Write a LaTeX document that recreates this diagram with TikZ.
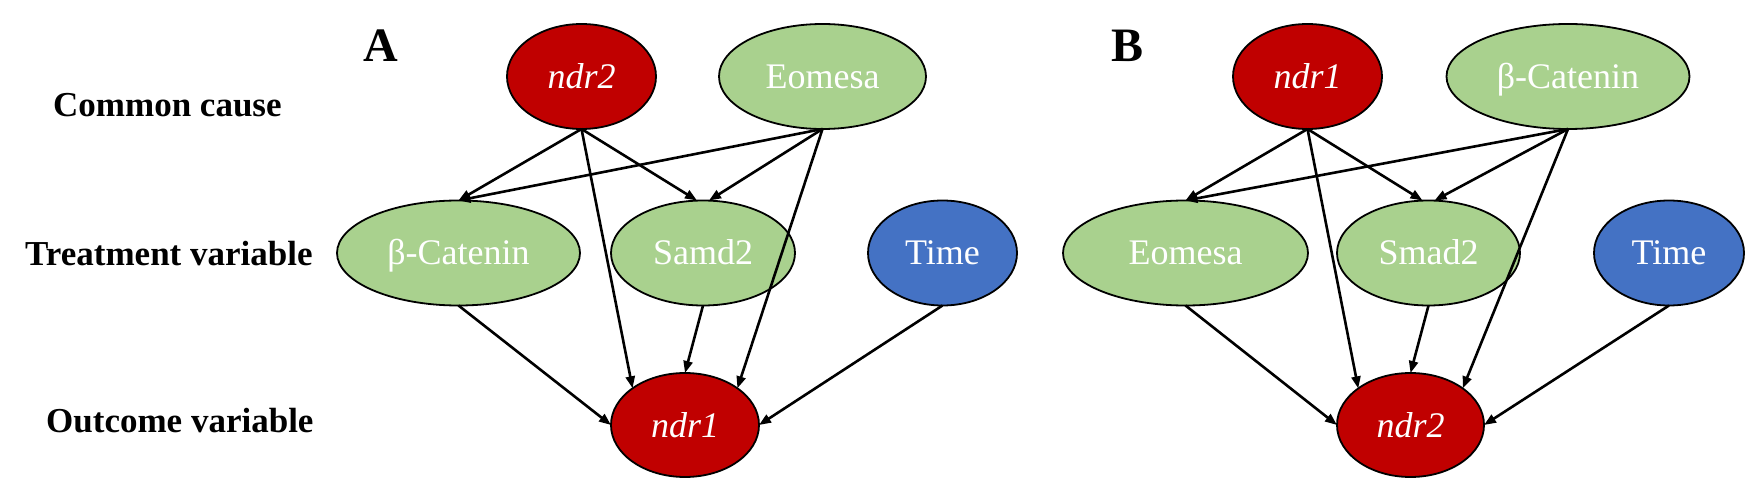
\documentclass[tikz,border=0pt]{standalone}
\usepackage{fontspec}
\setmainfont{Liberation Serif}
\usetikzlibrary{shapes.geometric,arrows.meta}
\definecolor{nred}{HTML}{C00000}
\definecolor{ngreen}{HTML}{A9D18E}
\definecolor{nblue}{HTML}{4472C4}
\tikzset{
  ell/.style={ellipse, draw=black, line width=1.8pt, inner sep=0pt, outer sep=0pt,
    text=white, text height=24pt, text depth=0pt,
    font=\fontsize{36}{40}\selectfont},
  rednode/.style={ell, fill=nred, font=\fontsize{36}{40}\selectfont\itshape},
  greennode/.style={ell, fill=ngreen},
  bluenode/.style={ell, fill=nblue},
  rowlabel/.style={anchor=base west, inner sep=0pt, font=\fontsize{35}{40}\selectfont\bfseries},
  panellabel/.style={anchor=base west, inner sep=0pt, font=\fontsize{48}{50}\selectfont\bfseries},
  edge/.style={-{Triangle[length=12pt,width=9pt]}, line width=2.6pt}
}
\begin{document}
\begin{tikzpicture}[x=1pt,y=-1pt]
\useasboundingbox (0,0) rectangle (1746,478);

% row labels
\node[rowlabel] (lc) at (53,117) {Common cause};
\node[rowlabel] (lt) at (25,266) {Treatment variable};
\node[rowlabel] (lo) at (46,432) {Outcome variable};

% panel A
\node[panellabel] (pA) at (363,62) {A};
\node[rednode, minimum width=149pt, minimum height=105pt] (ndrtwoA) at (581.5,76.5) {ndr2};
\node[greennode, minimum width=207pt, minimum height=105pt] (eomA) at (822.5,76.5) {Eomesa};
\node[greennode, minimum width=243pt, minimum height=105pt] (betaA) at (458.5,253) {β-Catenin};
\node[greennode, minimum width=184pt, minimum height=105pt] (samdA) at (703,253) {Samd2};
\node[bluenode, minimum width=149pt, minimum height=105pt] (timeA) at (942.5,253) {Time};
\node[rednode, minimum width=148pt, minimum height=104pt] (ndroneA) at (685,425) {ndr1};

\draw[edge] (ndrtwoA.south) -- (betaA.north);
\draw[edge] (eomA.south) -- (betaA.north);
\draw[edge] (ndrtwoA.south) -- ([xshift=-6pt]samdA.north);
\draw[edge] (eomA.south) -- ([xshift=6pt]samdA.north);
\draw[edge] (ndrtwoA.south) -- (ndroneA.145);
\draw[edge] (eomA.south) -- (ndroneA.35);
\draw[edge] (betaA.south) -- (ndroneA.west);
\draw[edge] (samdA.south) -- (ndroneA.north);
\draw[edge] (timeA.south) -- (ndroneA.east);

% panel B
\node[panellabel] (pB) at (1111,62) {B};
\node[rednode, minimum width=149pt, minimum height=105pt] (ndroneB) at (1307.5,76.5) {ndr1};
\node[greennode, minimum width=243pt, minimum height=105pt] (betaB) at (1568,76.5) {β-Catenin};
\node[greennode, minimum width=245pt, minimum height=105pt] (eomB) at (1185.5,253) {Eomesa};
\node[greennode, minimum width=183pt, minimum height=105pt] (smadB) at (1428.5,253) {Smad2};
\node[bluenode, minimum width=150pt, minimum height=105pt] (timeB) at (1669,253) {Time};
\node[rednode, minimum width=147pt, minimum height=104pt] (ndrtwoB) at (1410.5,425) {ndr2};

\draw[edge] (ndroneB.south) -- (eomB.north);
\draw[edge] (betaB.south) -- (eomB.north);
\draw[edge] (ndroneB.south) -- ([xshift=-6pt]smadB.north);
\draw[edge] (betaB.south) -- ([xshift=6pt]smadB.north);
\draw[edge] (ndroneB.south) -- (ndrtwoB.145);
\draw[edge] (betaB.south) -- (ndrtwoB.35);
\draw[edge] (eomB.south) -- (ndrtwoB.west);
\draw[edge] (smadB.south) -- (ndrtwoB.north);
\draw[edge] (timeB.south) -- (ndrtwoB.east);
\end{tikzpicture}
\end{document}
